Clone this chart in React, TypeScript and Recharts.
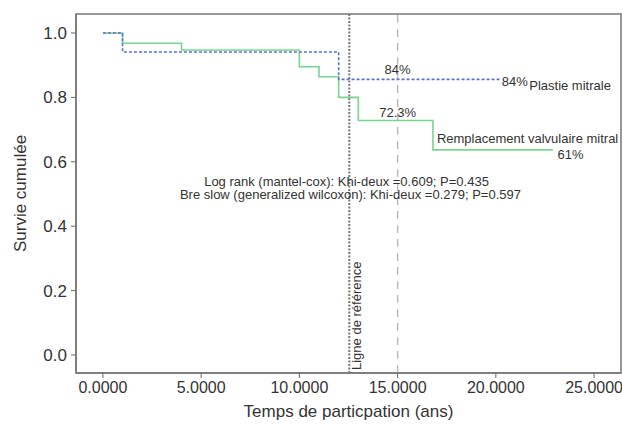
import { LineChart, Line, XAxis, YAxis, ReferenceLine, ReferenceDot, ReferenceArea, Label } from 'recharts'

// Kaplan-Meier steps (time in years, cumulative survival)
const plastieTime = [0, 1, 12, 20.2]
const plastieSurv = [1, 0.941, 0.856, 0.856]
const remplTime = [0, 1, 4, 10, 11, 12, 13, 16.8, 22.9]
const remplSurv = [1, 0.968, 0.947, 0.895, 0.864, 0.8, 0.728, 0.637, 0.637]

const xTicks = [0, 5, 10, 15, 20, 25]
const yTicks = [0, 0.2, 0.4, 0.6, 0.8, 1.0]
const xDomain: [number, number] = [-1.37, 26.37]
const yDomain: [number, number] = [-0.056, 1.059]

const refTime = 12.54
const markTime = 15

const plastie = plastieTime.map((t, i) => ({ t, s: plastieSurv[i] }))
const rempl = remplTime.map((t, i) => ({ t, s: remplSurv[i] }))

const FONT = '"Liberation Sans", Arial, Helvetica, sans-serif'
const TXT = '#333'

// plain text anchored at a data point via ReferenceDot
function note(value: string, anchor: 'start' | 'middle' = 'middle', size = 13) {
  return (props: any) => {
    const vb = props.viewBox || {}
    return (
      <text x={vb.x} y={vb.y} dy="0.35em" textAnchor={anchor} fontSize={size} fontFamily={FONT} fill={TXT}>
        {value}
      </text>
    )
  }
}

export default function App() {
  return (
    <div style={{ position: 'absolute', left: 0, top: 0, background: '#fff' }}>
      <LineChart width={622} height={428} margin={{ top: 14, right: 1, bottom: 5, left: 10 }}>
        <XAxis
          type="number"
          dataKey="t"
          domain={xDomain}
          ticks={xTicks}
          tickFormatter={(v: number) => v.toFixed(4)}
          allowDataOverflow
          stroke="#666"
          tickSize={5}
          tickMargin={4}
          height={50}
          tick={{ fontSize: 16, fill: TXT, fontFamily: FONT }}
        >
          <Label
            content={(p: any) => {
              const vb = p.viewBox
              return (
                <text x={vb.x + vb.width / 2} y={vb.y + 44} textAnchor="middle" fontSize={17} fontFamily={FONT} fill={TXT}>
                  Temps de particpation (ans)
                </text>
              )
            }}
          />
        </XAxis>
        <YAxis
          type="number"
          dataKey="s"
          domain={yDomain}
          ticks={yTicks}
          tickFormatter={(v: number) => v.toFixed(1)}
          allowDataOverflow
          stroke="#666"
          tickSize={5}
          tickMargin={4}
          width={66}
          tick={{ fontSize: 17, fill: TXT, fontFamily: FONT }}
        >
          <Label
            content={(p: any) => {
              const vb = p.viewBox
              const cx = 20
              const cy = vb.y + vb.height / 2
              return (
                <text x={cx} y={cy} dy="0.35em" textAnchor="middle" transform={`rotate(-90, ${cx}, ${cy})`} fontSize={17} fontFamily={FONT} fill={TXT}>
                  Survie cumulée
                </text>
              )
            }}
          />
        </YAxis>

        <ReferenceArea x1={xDomain[0]} x2={xDomain[1]} y1={yDomain[0]} y2={yDomain[1]} fill="none" stroke="#777" strokeWidth={1.5} />

        <ReferenceLine x={markTime} stroke="#bbb" strokeWidth={1.5} strokeDasharray="8 6" />
        <ReferenceLine
          x={refTime}
          stroke="#777"
          strokeWidth={2}
          strokeDasharray="2 1.5"
          label={(p: any) => {
            const vb = p.viewBox
            const x = vb.x + 12
            const y = vb.y + vb.height - 3
            return (
              <text x={x} y={y} textAnchor="start" transform={`rotate(-90, ${x}, ${y})`} fontSize={13} fontFamily={FONT} fill={TXT}>
                Ligne de référence
              </text>
            )
          }}
        />

        <Line data={rempl} dataKey="s" type="stepAfter" stroke="#79d48e" strokeWidth={1.6} dot={false} isAnimationActive={false} />
        <Line data={plastie} dataKey="s" type="stepAfter" stroke="#5b72cc" strokeWidth={1.6} strokeDasharray="3 2" dot={false} isAnimationActive={false} />

        <ReferenceDot x={15} y={0.888} r={0} ifOverflow="visible" label={note('84%')} />
        <ReferenceDot x={20.3} y={0.848} r={0} ifOverflow="visible" label={note('84%', 'start')} />
        <ReferenceDot x={21.7} y={0.838} r={0} ifOverflow="visible" label={note('Plastie mitrale', 'start')} />
        <ReferenceDot x={15} y={0.752} r={0} ifOverflow="visible" label={note('72.3%')} />
        <ReferenceDot x={17} y={0.671} r={0} ifOverflow="visible" label={note('Remplacement valvulaire mitral', 'start')} />
        <ReferenceDot x={23.8} y={0.624} r={0} ifOverflow="visible" label={note('61%')} />
        <ReferenceDot x={12.4} y={0.54} r={0} ifOverflow="visible" label={note('Log rank (mantel-cox): Khi-deux =0.609; P=0.435')} />
        <ReferenceDot x={12.6} y={0.497} r={0} ifOverflow="visible" label={note('Bre slow (generalized wilcoxon): Khi-deux =0.279; P=0.597')} />
      </LineChart>
    </div>
  )
}
